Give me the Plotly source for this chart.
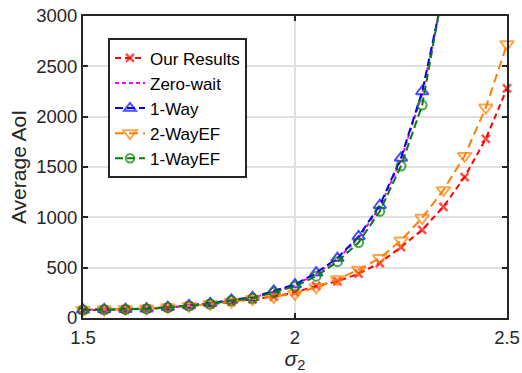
import plotly.graph_objects as go

sigma2 = [1.5, 1.55, 1.6, 1.65, 1.7, 1.75, 1.8, 1.85, 1.9, 1.95, 2.0,
          2.05, 2.1, 2.15, 2.2, 2.25, 2.3, 2.35, 2.4, 2.45, 2.5]

our_results = [78, 82, 86, 92, 104, 118, 135, 160, 185, 212, 255,
               318, 365, 440, 546, 705, 876, 1105, 1400, 1780, 2280]
two_way_ef = [80, 84, 88, 94, 106, 120, 138, 162, 188, 208, 240,
              305, 385, 480, 596, 770, 995, 1270, 1610, 2090, 2720]

sigma2_short = sigma2[:18]
zero_wait = [80, 84, 87, 92, 106, 123, 143, 176, 200, 262, 325,
             440, 585, 795, 1100, 1570, 2225, 3230]
one_way = [81, 85, 88, 93, 108, 125, 146, 180, 205, 270, 332,
           450, 595, 810, 1120, 1590, 2250, 3240]
one_way_ef = [79, 83, 85, 90, 104, 120, 140, 172, 196, 255, 315,
              415, 560, 750, 1060, 1510, 2115, 3280]

YMAX = 3000
FONT = "Liberation Sans, Arial, sans-serif"


def sizes(vals, s):
    return [s if v <= YMAX else 0 for v in vals]


fig = go.Figure()

fig.add_trace(go.Scatter(
    x=sigma2, y=our_results, name="Our Results", mode="lines+markers",
    line=dict(color="#FF0000", width=2, dash="6px,4px"),
    marker=dict(symbol="x-thin-open", size=sizes(our_results, 8),
                line=dict(color="#FF0000", width=2.5)),
    cliponaxis=False))

fig.add_trace(go.Scatter(
    x=sigma2_short, y=zero_wait, name="Zero-wait", mode="lines",
    line=dict(color="#FF00FF", width=2, dash="4px,3px"),
    cliponaxis=False))

fig.add_trace(go.Scatter(
    x=sigma2_short, y=one_way, name="1-Way", mode="lines+markers",
    line=dict(color="#0000FF", width=2, dash="8px,4px"),
    marker=dict(symbol="triangle-up-open", size=sizes(one_way, 11),
                color="#0000FF", line=dict(color="#0000FF", width=2)),
    cliponaxis=False))

fig.add_trace(go.Scatter(
    x=sigma2, y=two_way_ef, name="2-WayEF", mode="lines+markers",
    line=dict(color="#FF8000", width=2, dash="9px,5px"),
    marker=dict(symbol="triangle-down-open", size=sizes(two_way_ef, 12),
                color="#FF8000", line=dict(color="#FF8000", width=2)),
    cliponaxis=False))

fig.add_trace(go.Scatter(
    x=sigma2_short, y=one_way_ef, name="1-WayEF", mode="lines+markers",
    line=dict(color="#008000", width=2, dash="8px,4px"),
    marker=dict(symbol="circle-open", size=sizes(one_way_ef, 9),
                color="#008000", line=dict(color="#008000", width=2)),
    cliponaxis=False))

axis_common = dict(
    showline=True, linecolor="#262626", linewidth=2, mirror="ticks",
    ticks="inside", ticklen=5, tickwidth=2, tickcolor="#262626",
    showgrid=True, gridcolor="#E0E0E0", gridwidth=2, zeroline=False,
    tickfont=dict(family=FONT, size=18.5, color="#262626"),
    automargin=False, ticklabeloverflow="allow",
)

fig.update_xaxes(
    range=[1.5, 2.5], tickvals=[1.5, 2, 2.5], ticktext=["1.5", "2", "2.5"],
    ticklabelstandoff=2,
    title=dict(text="<i>σ</i><sub>2</sub>", font=dict(family=FONT, size=21, color="#262626"),
               standoff=0),
    **axis_common)
fig.update_yaxes(
    range=[0, 3000], tickvals=[0, 500, 1000, 1500, 2000, 2500, 3000],
    title=dict(text="Average AoI", font=dict(family=FONT, size=21, color="#262626"),
               standoff=4),
    **axis_common)

fig.update_layout(
    width=522, height=373,
    margin=dict(l=83, r=15, t=16, b=55),
    plot_bgcolor="white", paper_bgcolor="white",
    font=dict(family=FONT, size=18, color="#000000"),
    showlegend=True,
    legend=dict(
        x=0.059, y=0.926, xanchor="left", yanchor="top",
        bgcolor="white", bordercolor="#262626", borderwidth=2,
        font=dict(family=FONT, size=17, color="#000000"),
        itemwidth=30, tracegroupgap=0,
    ),
)

# remove the page's default body margin so the figure sits at the window origin
fig.write_html("out.html",
               config={"displayModeBar": False},
               post_script="document.body.style.margin='0';"
                           "document.body.style.overflow='hidden';")
